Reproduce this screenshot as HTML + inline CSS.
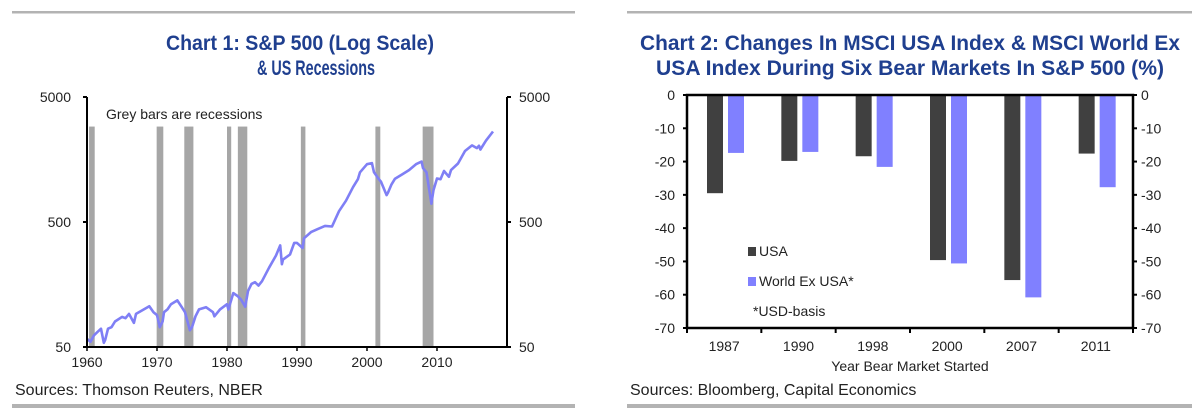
<!DOCTYPE html>
<html><head><meta charset="utf-8"><style>
html,body{margin:0;padding:0;background:#fff;}
svg{display:block;}
text{font-family:"Liberation Sans Narrow","Liberation Sans",sans-serif;}
.title{fill:#1f3f8f;font-weight:bold;font-size:21px;}
.tick{fill:#222;font-size:14px;}
</style></head><body>
<svg id="root" width="1200" height="413" viewBox="0 0 1200 413" xmlns="http://www.w3.org/2000/svg">
<rect x="12" y="11" width="563" height="2.5" fill="#b3b3b3"/>
<rect x="627" y="11" width="565" height="2.5" fill="#b3b3b3"/>
<rect x="12" y="404" width="563" height="4" fill="#b3b3b3"/>
<rect x="627" y="404" width="565" height="4" fill="#b3b3b3"/>

<text class="title" x="300" y="50" text-anchor="middle" textLength="268" lengthAdjust="spacingAndGlyphs">Chart 1: S&amp;P 500 (Log Scale)</text>
<text class="title" x="316" y="75" text-anchor="middle" textLength="118" lengthAdjust="spacingAndGlyphs">&amp; US Recessions</text>
<text class="title" x="910" y="50" text-anchor="middle" textLength="540" lengthAdjust="spacingAndGlyphs">Chart 2: Changes In MSCI USA Index &amp; MSCI World Ex</text>
<text class="title" x="910" y="75" text-anchor="middle" textLength="508" lengthAdjust="spacingAndGlyphs">USA Index During Six Bear Markets In S&amp;P 500 (%)</text>

<text x="15" y="395" style="font-size:16px;fill:#222">Sources: Thomson Reuters, NBER</text>
<text x="630" y="395" style="font-size:16px;fill:#222">Sources: Bloomberg, Capital Economics</text>

<g id="c1"></g>
<g id="c2"></g>
</svg>
<script>
// ---------- Chart 1 data ----------
const recessionStarts = [1960.3, 1969.95, 1973.9, 1980.0, 1981.55, 1990.55, 2001.2, 2007.95];
const recessionEnds   = [1961.1, 1970.9, 1975.2, 1980.6, 1982.9, 1991.2, 2001.9, 2009.5];
const spYears = [1960,1960.5,1961,1961.5,1962,1962.4,1962.6,1963,1963.5,1964,1965,1965.5,1966,1966.7,1967,1968,1968.9,1969.5,1970,1970.4,1970.8,1971,1971.5,1972,1972.9,1973.5,1974,1974.7,1975,1975.5,1976,1977,1978,1978.2,1979,1980,1980.2,1980.9,1981.5,1982,1982.6,1983,1983.5,1984,1984.5,1985,1986,1987,1987.6,1987.85,1988,1989,1989.6,1990,1990.8,1991,1992,1993,1994,1995,1996,1997,1998,1998.7,1999,2000,2000.7,2001,2001.7,2002,2002.8,2003,2003.5,2004,2005,2006,2007,2007.8,2008,2008.5,2009.2,2009.5,2010,2010.5,2011,2011.7,2012,2013,2014,2015,2015.7,2016,2016.2,2017,2018];
const spValues = [58,55,62,66,70,54,57,70,72,80,87,85,92,78,92,99,106,95,90,72,80,95,100,110,118,105,95,68,72,88,100,104,95,88,100,110,100,135,128,120,105,140,160,165,155,168,215,270,325,230,250,275,340,340,310,370,415,440,465,460,610,740,950,1100,1250,1450,1480,1250,1100,1050,820,860,1000,1110,1200,1300,1450,1520,1350,1250,700,900,1115,1100,1280,1150,1300,1470,1850,2050,1950,2040,1900,2240,2650];
const c1YTicks = [50, 500, 5000];
const c1XTicks = [1960, 1970, 1980, 1990, 2000, 2010];

// ---------- Chart 2 data ----------
const categories = ["1987","1990","1998","2000","2007","2011"];
const usaValues = [-29.5,-19.8,-18.4,-49.6,-55.6,-17.6];
const worldValues = [-17.4,-17.1,-21.6,-50.6,-60.8,-27.7];
const c2YTicks = [0,-10,-20,-30,-40,-50,-60,-70];

const NS = "http://www.w3.org/2000/svg";
function mk(parent, tag, attrs, txt){
  const e = document.createElementNS(NS, tag);
  for (const k in attrs) e.setAttribute(k, attrs[k]);
  if (txt !== undefined) e.textContent = txt;
  parent.appendChild(e);
  return e;
}

// ---- Chart 1 ----
(function(){
  const g = document.getElementById('c1');
  const L=87, R=507, T=97, B=347;
  const x = yr => L + (yr-1960)*(R-L)/60;
  const y = v => B - (Math.log10(v)-Math.log10(50))*(B-T)/2;
  for (let i=0;i<recessionStarts.length;i++){
    const r = mk(g,'rect',{x:x(recessionStarts[i]),y:y(2900),width:Math.max(3,x(recessionEnds[i])-x(recessionStarts[i])),height:B-y(2900),fill:'#a6a6a6'});
    
    
  }
  let d='';
  spYears.forEach((yr,i)=>{ d += (i?'L':'M') + x(yr).toFixed(1) + ',' + y(spValues[i]).toFixed(1); });
  const p = mk(g,'path',{d:d,fill:'none',stroke:'#7f7ff5','stroke-width':2.6,'stroke-linejoin':'round'});
  
  
  const ax = mk(g,'path',{d:`M${L},${T}V${B}H${R}V${T}`,fill:'none',stroke:'#000','stroke-width':2});
  
  
  c1YTicks.forEach(v=>{
    mk(g,'line',{x1:L-4,x2:L,y1:y(v),y2:y(v),stroke:'#000','stroke-width':2});
    mk(g,'line',{x1:R,x2:R+4,y1:y(v),y2:y(v),stroke:'#000','stroke-width':2});
    const t1 = mk(g,'text',{x:L-16,y:y(v)+5,'text-anchor':'end',class:'tick'},v);
    
    
    const t2 = mk(g,'text',{x:R+12,y:y(v)+5,class:'tick'},v);
    
    
  });
  c1XTicks.forEach(v=>{
    mk(g,'line',{x1:x(v),x2:x(v),y1:B,y2:B+4,stroke:'#000','stroke-width':1.5});
    const t = mk(g,'text',{x:x(v),y:B+20,'text-anchor':'middle',class:'tick'},v);
    
    
  });
  const n = mk(g,'text',{x:106,y:119,class:'tick'},'Grey bars are recessions');
  
  
})();

// ---- Chart 2 ----
(function(){
  const g = document.getElementById('c2');
  const L=687, R=1133, T=95, B=328;
  const cw = (R-L)/categories.length;
  const y = v => T + (0-v)*(B-T)/70;
  categories.forEach((c,i)=>{
    const b1 = mk(g,'rect',{x:L+i*cw+20,y:y(0),width:16,height:y(usaValues[i])-y(0),fill:'#404040'});
    
    
    const b2 = mk(g,'rect',{x:L+i*cw+41,y:y(0),width:16,height:y(worldValues[i])-y(0),fill:'#8080ff'});
    
    
    const t = mk(g,'text',{x:L+(i+0.5)*cw,y:B+23,'text-anchor':'middle',class:'tick'},c);
    
    
  });
  for (let i=0;i<=categories.length;i++) mk(g,'line',{x1:L+i*cw,x2:L+i*cw,y1:B,y2:B+5,stroke:'#000','stroke-width':2});
  const ax = mk(g,'path',{d:`M${L},${T}V${B}H${R}V${T}Z`,fill:'none',stroke:'#000','stroke-width':2.5});
  
  
  c2YTicks.forEach(v=>{
    mk(g,'line',{x1:L-4,x2:L,y1:y(v),y2:y(v),stroke:'#000','stroke-width':2});
    mk(g,'line',{x1:R,x2:R+4,y1:y(v),y2:y(v),stroke:'#000','stroke-width':2});
    const t1 = mk(g,'text',{x:L-12,y:y(v)+5,'text-anchor':'end',class:'tick'},v);
    
    
    const t2 = mk(g,'text',{x:R+8,y:y(v)+5,class:'tick'},v);
    
    
  });
  const xt = mk(g,'text',{x:910,y:371,'text-anchor':'middle',class:'tick'},'Year Bear Market Started');
  
  
  const l1 = mk(g,'rect',{x:748,y:247,width:8,height:9,fill:'#404040'});
  
  
  const lt1 = mk(g,'text',{x:759,y:256,class:'tick'},'USA');
  
  
  const l2 = mk(g,'rect',{x:748,y:277,width:8,height:9,fill:'#8080ff'});
  
  
  const lt2 = mk(g,'text',{x:759,y:286,class:'tick'},'World Ex USA*');
  
  
  const fn = mk(g,'text',{x:753,y:316,class:'tick'},'*USD-basis');
  
  
})();
</script>
</body></html>
